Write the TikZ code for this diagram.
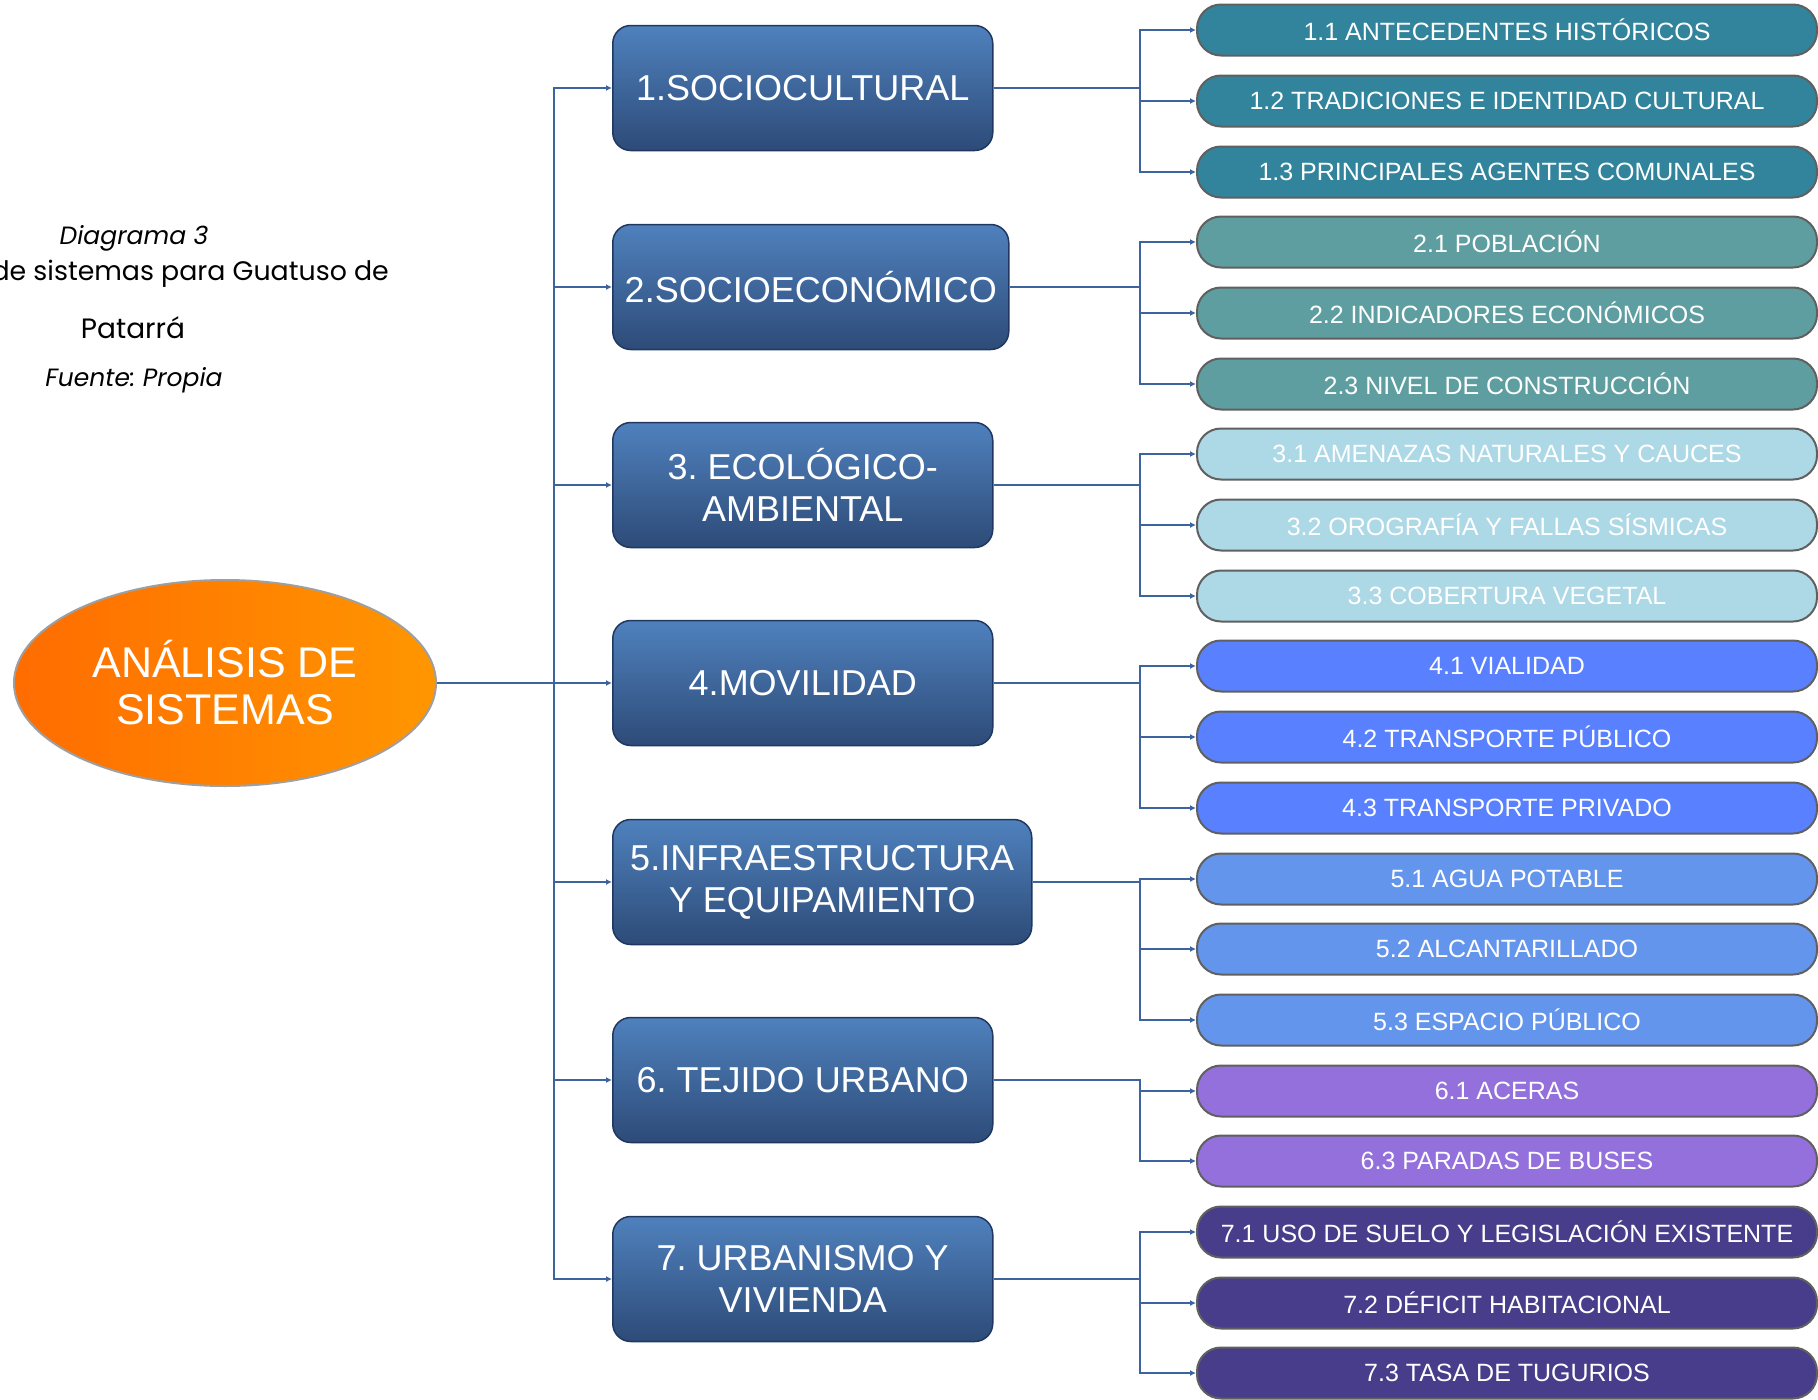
\documentclass[tikz,border=0pt]{standalone}
\usepackage{fontspec}
\setmainfont{Liberation Sans}
\newfontfamily\gotica{Poppins}
\usetikzlibrary{arrows.meta,shapes.geometric}
\frenchspacing

\definecolor{linea}{RGB}{62,100,160}
\definecolor{ejearriba}{RGB}{79,129,189}
\definecolor{ejeabajo}{RGB}{45,75,120}
\definecolor{ejeborde}{RGB}{32,56,96}
\definecolor{naranjaA}{RGB}{255,108,0}
\definecolor{naranjaB}{RGB}{255,150,0}
\definecolor{hojaborde}{RGB}{96,96,96}
\definecolor{cUno}{RGB}{49,132,155}
\definecolor{cDos}{RGB}{95,158,160}
\definecolor{cTres}{RGB}{173,216,230}
\definecolor{cCuatro}{RGB}{88,128,255}
\definecolor{cCinco}{RGB}{100,149,237}
\definecolor{cSeis}{RGB}{147,112,219}
\definecolor{cSiete}{RGB}{72,61,139}

\tikzset{
  eje/.style={anchor=west, minimum width=380pt, minimum height=125pt, inner sep=4pt, rounded corners=18pt, draw=ejeborde, line width=1.5pt, top color=ejearriba, bottom color=ejeabajo, text=white, align=center, font=\fontsize{36}{42}\selectfont},
  hoja/.style={anchor=west, minimum width=620pt, minimum height=51pt, rounded corners=24pt, draw=hojaborde, line width=2pt, text=white, font=\fontsize{25}{30}\selectfont},
  flecha/.style={draw=linea, line width=2.5pt, -{Latex[length=6pt,width=6pt]}},
  rotulo/.style={inner sep=0pt, font=\gotica\fontsize{28}{32}\selectfont},
  cursiva/.style={inner sep=0pt, font=\gotica\itshape\fontsize{25}{30}\selectfont}
}
\newcommand{\ponhoja}[4]{\node[hoja,fill=#1] (#2) at (1196,#3) {#4};}
\newcommand{\tronco}[1]{\draw[flecha] (raiz.east) -| (tr |- #1) -- (#1);}
\newcommand{\rama}[2]{\draw[flecha] (#1.east) -| (br |- #2) -- (#2);}

\begin{document}
\begin{tikzpicture}[x=1pt,y=-1pt]
\useasboundingbox (0,0) rectangle (1818,1400);
\coordinate (tr) at (554,0);
\coordinate (br) at (1140,0);

% titulo
\node[cursiva] (diag) at (134,238) {Diagrama 3};
\node[rotulo,anchor=east,font=\gotica\fontsize{26.8}{32}\selectfont] (tit) at (389,274) {de sistemas para Guatuso de};
\node[rotulo] (lugar) at (133,328) {Patarrá};
\node[cursiva] (fuente) at (134,380) {Fuente: Propia};

\node[ellipse, minimum width=422pt, minimum height=206pt, draw=gray!75, line width=2pt, left color=naranjaA, right color=naranjaB, text=white, align=center, font=\fontsize{43}{47}\selectfont] (raiz) at (225,683) {ANÁLISIS DE\\SISTEMAS};

\node[eje] (m1) at (612,88) {1.SOCIOCULTURAL};
\node[eje,minimum width=396pt] (m2) at (612,287) {2.SOCIOECONÓMICO};
\node[eje] (m3) at (612,485) {3. ECOLÓGICO-\\AMBIENTAL};
\node[eje] (m4) at (612,683) {4.MOVILIDAD};
\node[eje,minimum width=419pt] (m5) at (612,882) {5.INFRAESTRUCTURA\\Y EQUIPAMIENTO};
\node[eje] (m6) at (612,1080) {6. TEJIDO URBANO};
\node[eje] (m7) at (612,1279) {7. URBANISMO Y\\VIVIENDA};

\ponhoja{cUno}{a11}{30}{1.1 ANTECEDENTES HISTÓRICOS}
\ponhoja{cUno}{a12}{101}{1.2 TRADICIONES E IDENTIDAD CULTURAL}
\ponhoja{cUno}{a13}{172}{1.3 PRINCIPALES AGENTES COMUNALES}
\ponhoja{cDos}{a21}{242}{2.1 POBLACIÓN}
\ponhoja{cDos}{a22}{313}{2.2 INDICADORES ECONÓMICOS}
\ponhoja{cDos}{a23}{384}{2.3 NIVEL DE CONSTRUCCIÓN}
\ponhoja{cTres}{a31}{454}{3.1 AMENAZAS NATURALES Y CAUCES}
\ponhoja{cTres}{a32}{525}{3.2 OROGRAFÍA Y FALLAS SÍSMICAS}
\ponhoja{cTres}{a33}{596}{3.3 COBERTURA VEGETAL}
\ponhoja{cCuatro}{a41}{666}{4.1 VIALIDAD}
\ponhoja{cCuatro}{a42}{737}{4.2 TRANSPORTE PÚBLICO}
\ponhoja{cCuatro}{a43}{808}{4.3 TRANSPORTE PRIVADO}
\ponhoja{cCinco}{a51}{879}{5.1 AGUA POTABLE}
\ponhoja{cCinco}{a52}{949}{5.2 ALCANTARILLADO}
\ponhoja{cCinco}{a53}{1020}{5.3 ESPACIO PÚBLICO}
\ponhoja{cSeis}{a61}{1091}{6.1 ACERAS}
\ponhoja{cSeis}{a63}{1161}{6.3 PARADAS DE BUSES}
\ponhoja{cSiete}{a71}{1232}{7.1 USO DE SUELO Y LEGISLACIÓN EXISTENTE}
\ponhoja{cSiete}{a72}{1303}{7.2 DÉFICIT HABITACIONAL}
\ponhoja{cSiete}{a73}{1373}{7.3 TASA DE TUGURIOS}

% conectores
\tronco{m1} \tronco{m2} \tronco{m3} \tronco{m4} \tronco{m5} \tronco{m6} \tronco{m7}
\rama{m1}{a11} \rama{m1}{a12} \rama{m1}{a13}
\rama{m2}{a21} \rama{m2}{a22} \rama{m2}{a23}
\rama{m3}{a31} \rama{m3}{a32} \rama{m3}{a33}
\rama{m4}{a41} \rama{m4}{a42} \rama{m4}{a43}
\rama{m5}{a51} \rama{m5}{a52} \rama{m5}{a53}
\rama{m6}{a61} \rama{m6}{a63}
\rama{m7}{a71} \rama{m7}{a72} \rama{m7}{a73}
\end{tikzpicture}
\end{document}
